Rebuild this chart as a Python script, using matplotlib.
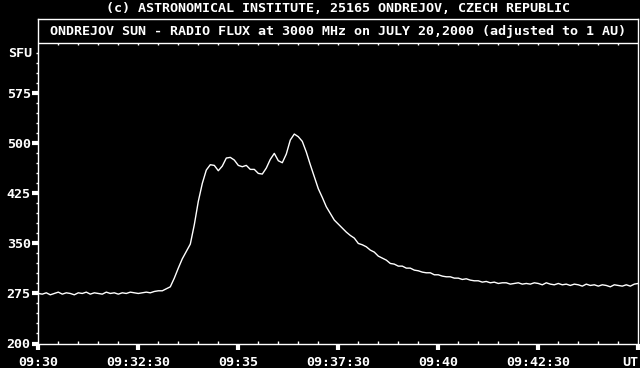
import numpy as np
import matplotlib
matplotlib.use("Agg")
import matplotlib.pyplot as plt
from matplotlib.ticker import FixedLocator

# ---- data ----
step_s = 6  # sampling step in seconds after 09:30
flux = [
    275, 274, 276, 273, 275, 277, 274, 276, 275, 273, 276, 275, 277,
    274, 276, 275, 274, 277, 275, 276, 274, 276, 275, 277, 276, 275,
    276, 277, 276, 278, 279, 279, 282, 285,
    298, 313, 327, 338, 349, 378, 413, 440,
    460, 468, 467, 459, 466, 478, 479, 475,
    467, 465, 467, 461, 461, 455, 454, 463,
    476, 485, 474, 471, 484, 505, 514, 510,
    503, 487, 468, 450, 432, 419, 405, 395,
    385, 379, 373, 367, 362, 358, 350, 348,
    345, 340, 337, 331, 328, 325, 320, 319,
    316, 316, 313, 313, 310, 309, 307, 306,
    306, 303, 303, 301, 300, 300, 298, 298,
    296, 297, 295, 294, 294, 292, 293, 291,
    292, 290, 291, 291, 289, 290, 291, 289,
    290, 289, 291, 290, 288, 291, 289, 288,
    290, 288, 289, 287, 289, 288, 286, 289,
    287, 288, 286, 288, 287, 285, 288, 287,
    286, 288, 286, 289, 290,
]
time_s = np.arange(len(flux)) * step_s

x_tick_pos = [0, 150, 300, 450, 600, 750, 900]
x_tick_labels = ["09:30", "09:32:30", "09:35", "09:37:30", "09:40", "09:42:30", "UT"]
y_tick_pos = [200, 275, 350, 425, 500, 575]
y_unit = "SFU"
y_unit_pos = 635
header_value = 650

top_title = "(c) ASTRONOMICAL INSTITUTE, 25165 ONDREJOV, CZECH REPUBLIC"
box_title = "ONDREJOV SUN - RADIO FLUX at 3000 MHz on JULY 20,2000 (adjusted to 1 AU)"

# ---- figure ----
W, H = 640, 368
fig = plt.figure(figsize=(W / 100, H / 100), dpi=100, facecolor="black")
left, right = 38.3 / W, 638.3 / W
bottom, top = 1 - 343.5 / H, 1 - 19.3 / H
ax = fig.add_axes([left, bottom, right - left, top - bottom], facecolor="black")

FONT = dict(family="DejaVu Sans Mono", weight="bold", size=9.6, color="white")

ax.plot(time_s, flux, color="white", lw=1.0)

ax.set_xlim(0, 900)
ax.set_ylim(200, 686)

for s in ax.spines.values():
    s.set_color("white")
    s.set_linewidth(1.0)

# header separator line with small downward ticks
ax.axhline(header_value, color="white", lw=1.0)
sep_ticks = np.arange(30, 900, 30)
ax.vlines(sep_ticks, header_value - 3.0, header_value, color="white", lw=1.0)

# x ticks
ax.xaxis.set_major_locator(FixedLocator(x_tick_pos))
ax.xaxis.set_minor_locator(FixedLocator(list(range(30, 900, 30))))
ax.set_xticklabels(x_tick_labels, fontdict=FONT)
ax.tick_params(axis="x", which="major", direction="out", length=4, width=3,
               color="white", pad=5)
ax.tick_params(axis="x", which="minor", direction="in", length=2.5, width=1,
               color="white")
labs = ax.get_xticklabels()
labs[-1].set_horizontalalignment("right")

# y ticks
ax.yaxis.set_major_locator(FixedLocator(y_tick_pos))
ax.yaxis.set_minor_locator(FixedLocator(list(range(215, 640, 15))))
ax.set_yticklabels([str(v) for v in y_tick_pos], fontdict=FONT)
ax.tick_params(axis="y", which="major", direction="out", length=4, width=3,
               color="white", pad=1.5)
ax.tick_params(axis="y", which="minor", direction="out", length=1.5, width=1,
               color="white")
ax.text(-0.0095, y_unit_pos, y_unit, transform=ax.get_yaxis_transform(),
        ha="right", va="center", **FONT)

# titles
ax.text(450, 686 - (31.7 - 19.3) * 1.5, box_title, transform=ax.transData,
        ha="center", va="center", zorder=5, **FONT)
fig.text(338.3 / W, 1 - 8.3 / H, top_title, ha="center", va="center", **FONT)

fig.savefig("out.png", dpi=100, facecolor="black")
